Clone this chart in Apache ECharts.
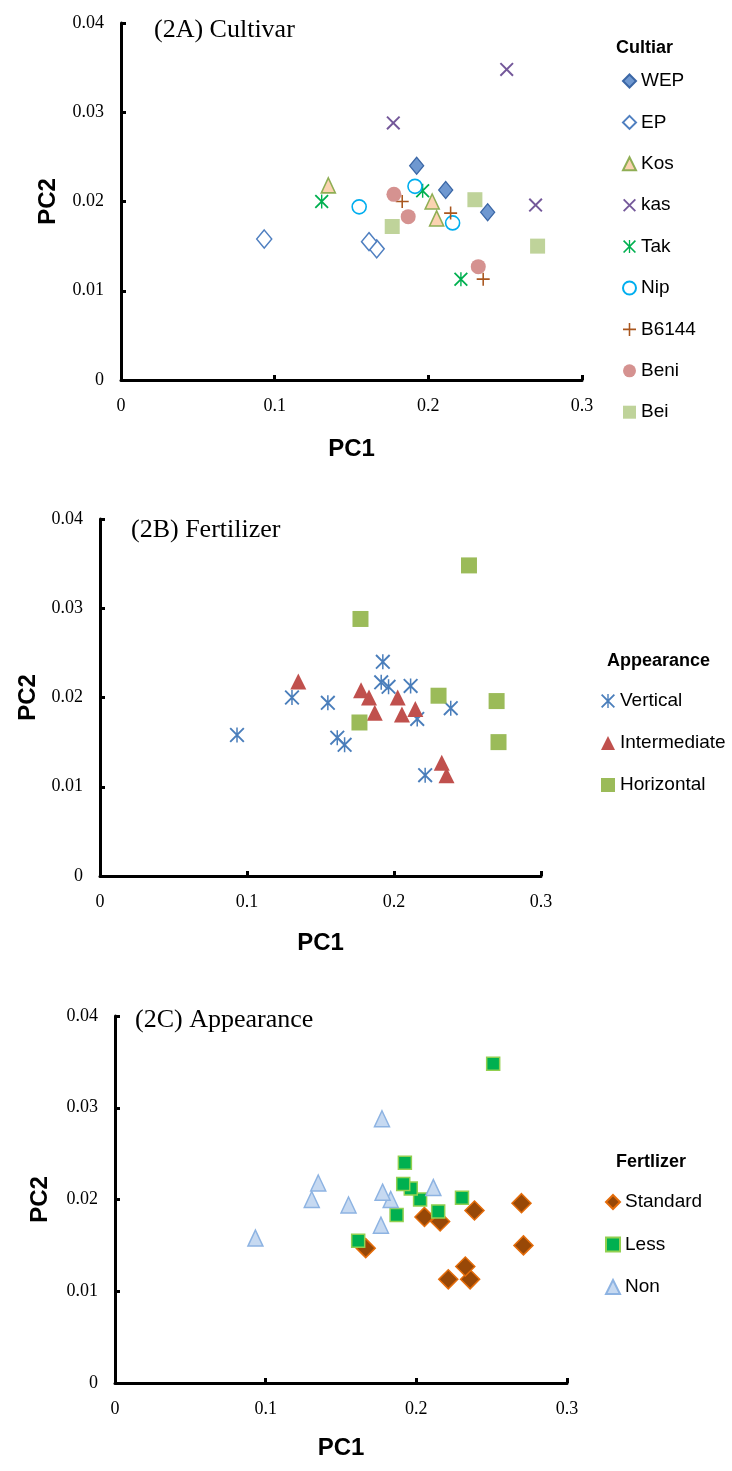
<!DOCTYPE html>
<html>
<head>
<meta charset="utf-8">
<title>PCA scatter</title>
<script src="https://cdn.jsdelivr.net/npm/echarts@6/dist/echarts.min.js"></script>
<style>
  html, body { margin: 0; padding: 0; background: #fff; }
  #chart { width: 732px; height: 1471px; }
</style>
</head>
<body>
<div id="chart"></div>
<script>
// 品种（每个品种在三种施肥水平下各有一个点）
const cultivars = ['WEP', 'EP', 'Kos', 'kas', 'Tak', 'Nip', 'B6144', 'Beni', 'Bei'];

// 标准施肥
const pc1Standard = [0.2386, 0.1664, 0.2054, 0.2698, 0.2212, 0.2158, 0.2357, 0.2325, 0.2711];
const pc2Standard = [0.0188, 0.0147, 0.0181, 0.0196, 0.0113, 0.0176, 0.0113, 0.0127, 0.0150];
// 少施肥
const pc1Less = [0.1924, 0.1614, 0.2025, 0.2510, 0.1963, 0.1913, 0.2145, 0.1869, 0.2303];
const pc2Less = [0.0240, 0.0155, 0.0200, 0.0348, 0.0212, 0.0217, 0.0187, 0.0183, 0.0202];
// 不施肥
const pc1Non = [0.2113, 0.0932, 0.1349, 0.1772, 0.1306, 0.1550, 0.1830, 0.1776, 0.1765];
const pc2Non = [0.0213, 0.0158, 0.0218, 0.0288, 0.0200, 0.0194, 0.0200, 0.0208, 0.0172];

// 株型
const appearanceOf = ['Vertical', 'Vertical', 'Intermediate', 'Horizontal', 'Vertical',
                      'Vertical', 'Intermediate', 'Intermediate', 'Horizontal'];
const appearances = ['Vertical', 'Intermediate', 'Horizontal'];
const fertilizers = ['Standard', 'Less', 'Non'];

// 坐标轴刻度
const xTicks = { min: 0, max: 0.3, interval: 0.1 };
const yTicks = { min: 0, max: 0.04, interval: 0.01 };

// 自定义符号（填充多边形）
const xPath = 'path://M2,0 L20,18 L18,20 L0,2 Z M18,0 L20,2 L2,20 L0,18 Z';
const plusPath = 'path://M8.8,0 L11.2,0 L11.2,20 L8.8,20 Z M0,8.8 L20,8.8 L20,11.2 L0,11.2 Z';
const starPath = 'path://M1.8,0 L20,18.2 L18.2,20 L0,1.8 Z M18.2,0 L20,1.8 L1.8,20 L0,18.2 Z M9,0 L11,0 L11,20 L9,20 Z';

// 所有点（按施肥水平组合）
function pointsOf(i) {
    return [
        [pc1Standard[i], pc2Standard[i]],
        [pc1Less[i], pc2Less[i]],
        [pc1Non[i], pc2Non[i]]
    ];
}

// 图A 品种样式
const cultivarStyle = {
    WEP:   { symbol: 'diamond', size: [14, 17], color: '#6f98d0', border: '#3b67a6', bw: 1.3 },
    EP:    { symbol: 'diamond', size: [15, 18], color: '#ffffff', border: '#4f7fc0', bw: 1.5 },
    Kos:   { symbol: 'triangle', size: [14, 15], color: '#fbd3b1', border: '#8fae54', bw: 1.6 },
    kas:   { symbol: xPath, size: [14, 14], color: '#74589a', border: '#74589a', bw: 0 },
    Tak:   { symbol: starPath, size: [14, 14], color: '#00b050', border: '#00b050', bw: 0 },
    Nip:   { symbol: 'circle', size: [14, 14], color: '#ffffff', border: '#00aeef', bw: 1.6 },
    B6144: { symbol: plusPath, size: [13, 13], color: '#a9561e', border: '#a9561e', bw: 0 },
    Beni:  { symbol: 'circle', size: [15, 15], color: '#d59290', border: '#d59290', bw: 0 },
    Bei:   { symbol: 'rect', size: [15, 15], color: '#bfd39a', border: '#bfd39a', bw: 0 }
};

// 图B 株型样式
const appearanceStyle = {
    Vertical:     { symbol: starPath, size: [15, 15], color: '#4a7ebb', border: '#4a7ebb', bw: 0 },
    Intermediate: { symbol: 'triangle', size: [16, 16], color: '#c0504d', border: '#c0504d', bw: 0 },
    Horizontal:   { symbol: 'rect', size: [16, 16], color: '#9bbb59', border: '#9bbb59', bw: 0 }
};

// 图C 施肥样式
const fertilizerStyle = {
    Standard: { symbol: 'diamond', size: [19, 19], color: '#984807', border: '#e46c0a', bw: 1.5 },
    Less:     { symbol: 'rect', size: [13, 13], color: '#00b050', border: '#92d050', bw: 1.5 },
    Non:      { symbol: 'triangle', size: [15, 16], color: '#c6d9f1', border: '#8db3e2', bw: 1.5 }
};

const serif = "'Liberation Serif', 'Times New Roman', serif";
const sans = "'Liberation Sans', Arial, sans-serif";

// 三个面板的网格位置
const grids = [
    { left: 121, top: 23, width: 461, height: 357 },
    { left: 100, top: 519, width: 441, height: 357 },
    { left: 115, top: 1016, width: 452, height: 367 }
];
const xNameGap = [57, 55, 53];
const yNameGap = [61, 60, 63];

function makeXAxis(i) {
    return {
        type: 'value', gridIndex: i,
        min: xTicks.min, max: xTicks.max, interval: xTicks.interval,
        name: 'PC1', nameLocation: 'middle', nameGap: xNameGap[i],
        nameTextStyle: { fontFamily: sans, fontWeight: 'bold', fontSize: 24, color: '#000' },
        axisLine: { onZero: false, lineStyle: { color: '#000', width: 3 } },
        axisTick: { inside: true, length: 5, lineStyle: { color: '#000', width: 3 } },
        axisLabel: {
            margin: 17, color: '#000', fontFamily: serif, fontSize: 18,
            formatter: v => String(+v.toFixed(2))
        },
        splitLine: { show: false }
    };
}

function makeYAxis(i) {
    return {
        type: 'value', gridIndex: i,
        min: yTicks.min, max: yTicks.max, interval: yTicks.interval,
        name: 'PC2', nameLocation: 'middle', nameGap: yNameGap[i],
        nameTextStyle: { fontFamily: sans, fontWeight: 'bold', fontSize: 24, color: '#000' },
        axisLine: { onZero: false, lineStyle: { color: '#000', width: 3 } },
        axisTick: { inside: true, length: 5, lineStyle: { color: '#000', width: 3 } },
        axisLabel: {
            margin: 17, color: '#000', fontFamily: serif, fontSize: 18,
            formatter: v => String(+v.toFixed(2))
        },
        splitLine: { show: false }
    };
}

function makeSeries(name, data, st, idx) {
    return {
        name: name, type: 'scatter', xAxisIndex: idx, yAxisIndex: idx,
        data: data, symbol: st.symbol, symbolSize: st.size,
        itemStyle: { color: st.color, borderColor: st.border, borderWidth: st.bw, opacity: 1 },
        emphasis: { disabled: true }
    };
}

const series = [];
// 图A：按品种
cultivars.forEach((c, i) => {
    series.push(makeSeries(c, pointsOf(i), cultivarStyle[c], 0));
});
// 图B：按株型
appearances.forEach(a => {
    const pts = [];
    cultivars.forEach((c, i) => {
        if (appearanceOf[i] === a) pts.push(...pointsOf(i));
    });
    series.push(makeSeries(a, pts, appearanceStyle[a], 1));
});
// 图C：按施肥水平
const fertData = {
    Standard: cultivars.map((c, i) => [pc1Standard[i], pc2Standard[i]]),
    Less: cultivars.map((c, i) => [pc1Less[i], pc2Less[i]]),
    Non: cultivars.map((c, i) => [pc1Non[i], pc2Non[i]])
};
fertilizers.forEach(f => {
    series.push(makeSeries(f, fertData[f], fertilizerStyle[f], 2));
});

const legendText = { fontFamily: sans, fontSize: 19, color: '#000', lineHeight: 20 };
const panelTitle = { fontFamily: serif, fontSize: 26, fontWeight: 'normal', color: '#000' };
const legendTitle = { fontFamily: sans, fontSize: 18, fontWeight: 'bold', color: '#000' };

const option = {
    animation: false,
    backgroundColor: '#fff',
    title: [
        { text: '(2A) Cultivar', left: 149, top: 12, textStyle: panelTitle },
        { text: '(2B) Fertilizer', left: 126, top: 512, textStyle: panelTitle },
        { text: '(2C) Appearance', left: 130, top: 1002, textStyle: panelTitle },
        { text: 'Cultiar', left: 611, top: 34, textStyle: legendTitle },
        { text: 'Appearance', left: 602, top: 647, textStyle: legendTitle },
        { text: 'Fertlizer', left: 611, top: 1148, textStyle: legendTitle }
    ],
    legend: [
        { data: cultivars, orient: 'vertical', left: 617, top: 66, itemWidth: 13, itemHeight: 13, itemGap: 21.4, textStyle: legendText, selectedMode: false },
        { data: appearances, orient: 'vertical', left: 596, top: 686, itemWidth: 14, itemHeight: 14, itemGap: 22, textStyle: legendText, selectedMode: false },
        { data: fertilizers, orient: 'vertical', left: 600, top: 1187, itemWidth: 14, itemHeight: 14, itemGap: 22.5, textStyle: legendText, selectedMode: false }
    ],
    grid: grids,
    xAxis: [makeXAxis(0), makeXAxis(1), makeXAxis(2)],
    yAxis: [makeYAxis(0), makeYAxis(1), makeYAxis(2)],
    series: series
};

const chart = echarts.init(document.getElementById('chart'));
chart.setOption(option);
</script>
</body>
</html>
